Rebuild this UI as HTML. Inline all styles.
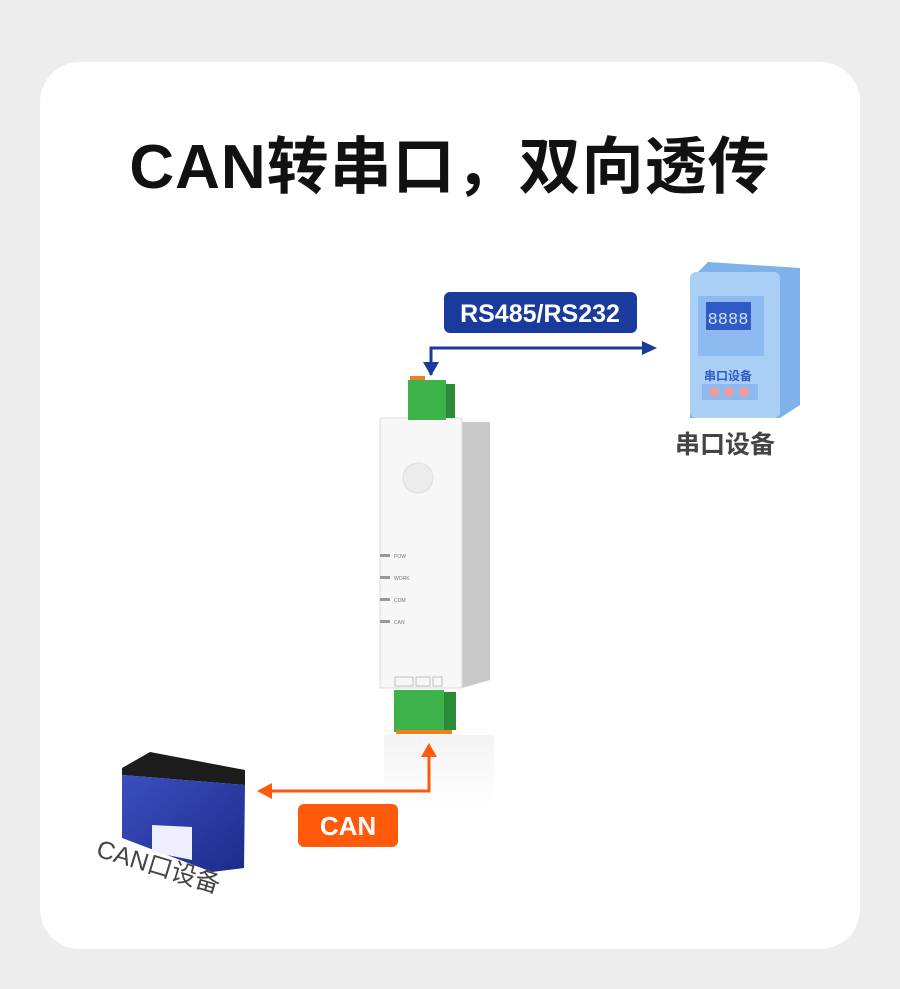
<!DOCTYPE html>
<html><head><meta charset="utf-8"><style>
body{margin:0;width:900px;height:989px;background:#ededed;font-family:"Liberation Sans","Noto Sans CJK SC",sans-serif;position:relative;overflow:hidden}
.card{position:absolute;left:40px;top:62px;width:820px;height:887px;background:#fff;border-radius:40px}
.abs{position:absolute}
h1{position:absolute;left:0;width:900px;top:128px;margin:0;text-align:center;font-size:62px;font-weight:bold;color:#111;letter-spacing:1px;line-height:80px}
</style></head><body>
<div class="card"></div>
<h1>CAN转串口，双向透传</h1>
<svg class="abs" style="left:0;top:0" width="900" height="989">
<defs>
<linearGradient id="bt" x1="0" y1="0" x2="1" y2="1"><stop offset="0" stop-color="#3a4fc0"/><stop offset="1" stop-color="#1d2a8a"/></linearGradient>
<linearGradient id="rf" x1="0" y1="0" x2="0" y2="1"><stop offset="0" stop-color="#f3f3f3"/><stop offset="1" stop-color="#fff"/></linearGradient>
</defs>
<rect x="384" y="735" width="110" height="70" fill="url(#rf)"/>
<!-- blue connector -->
<polyline points="431,375 431,348 645,348" fill="none" stroke="#1a3a9c" stroke-width="3"/>
<polygon points="423,362 439,362 431,376" fill="#1a3a9c"/>
<polygon points="642,341 657,348 642,355" fill="#1a3a9c"/>
<rect x="444" y="292" width="193" height="41" rx="6" fill="#1a3a9c"/>
<text x="540" y="322" text-anchor="middle" font-size="25" font-weight="bold" fill="#fff" font-family="Liberation Sans,sans-serif">RS485/RS232</text>
<!-- orange connector -->
<polyline points="429,752 429,791 270,791" fill="none" stroke="#ff5a0a" stroke-width="3"/>
<polygon points="421,757 437,757 429,743" fill="#ff5a0a"/>
<polygon points="272,783 257,791 272,799" fill="#ff5a0a"/>
<rect x="298" y="804" width="100" height="43" rx="6" fill="#ff5a0a"/>
<text x="348" y="835" text-anchor="middle" font-size="26" font-weight="bold" fill="#fff" font-family="Liberation Sans,sans-serif">CAN</text>
<!-- device -->
<polygon points="462,422 490,422 490,680 462,688" fill="#c9c9c9"/>
<rect x="380" y="418" width="82" height="270" fill="#f7f7f7" stroke="#ddd"/>
<rect x="410" y="376" width="15" height="5" fill="#f08020"/>
<rect x="408" y="380" width="38" height="40" fill="#3db14a"/>
<rect x="446" y="384" width="9" height="34" fill="#2a8c36"/>
<rect x="394" y="690" width="50" height="42" fill="#3db14a"/>
<rect x="444" y="692" width="12" height="38" fill="#2a8c36"/>
<rect x="396" y="730" width="56" height="4" fill="#f08020"/>
<circle cx="418" cy="478" r="15" fill="#ececec" stroke="#ddd"/>
<g font-size="5" fill="#777" font-family="Liberation Sans,sans-serif">
<rect x="380" y="554" width="10" height="3" fill="#999"/><text x="394" y="558">POW</text>
<rect x="380" y="576" width="10" height="3" fill="#999"/><text x="394" y="580">WORK</text>
<rect x="380" y="598" width="10" height="3" fill="#999"/><text x="394" y="602">COM</text>
<rect x="380" y="620" width="10" height="3" fill="#999"/><text x="394" y="624">CAN</text>
<rect x="395" y="677" width="18" height="9" fill="none" stroke="#999" stroke-width=".6"/>
<rect x="416" y="677" width="14" height="9" fill="none" stroke="#999" stroke-width=".6"/>
<rect x="433" y="677" width="9" height="9" fill="none" stroke="#999" stroke-width=".6"/>
</g>
<!-- serial device -->
<polygon points="690,280 708,262 800,268 800,405 780,418 690,418" fill="#7fb1ea"/>
<rect x="690" y="272" width="90" height="146" rx="6" fill="#a9cff5"/>
<rect x="698" y="296" width="66" height="60" fill="#8dbaf0"/>
<rect x="706" y="302" width="45" height="28" fill="#2e5bc4"/>
<text x="728" y="324" text-anchor="middle" font-size="17" fill="#cfe3ff" font-family="Liberation Mono,monospace">8888</text>
<text x="728" y="380" text-anchor="middle" font-size="12" font-weight="bold" fill="#2e5bc4">串口设备</text>
<rect x="702" y="384" width="56" height="16" fill="#8dbaf0"/>
<circle cx="714" cy="392" r="5" fill="#f19aa0"/><circle cx="729" cy="392" r="5" fill="#f19aa0"/><circle cx="744" cy="392" r="5" fill="#f19aa0"/>
<text x="725" y="453" text-anchor="middle" font-size="25" font-weight="bold" fill="#444">串口设备</text>
<!-- battery -->
<polygon points="122,768 150,752 245,770 245,785 122,775" fill="#1c1c1c"/>
<polygon points="122,775 245,785 244,868 212,872 122,838" fill="url(#bt)"/>
<polygon points="152,825 192,827 192,860 152,852" fill="#eef"/>
<text transform="translate(95,856) rotate(17)" font-size="25" fill="#444">CAN口设备</text>
</svg>
</body></html>
